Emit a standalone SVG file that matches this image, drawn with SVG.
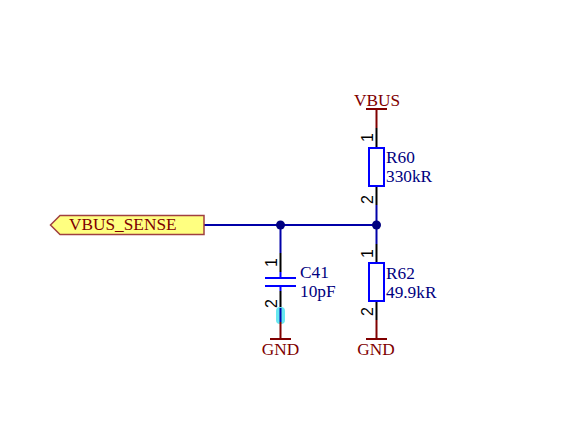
<svg xmlns="http://www.w3.org/2000/svg" width="566" height="447" viewBox="0 0 566 447">
<style>
text{font-family:"Liberation Serif","Times New Roman",serif;font-size:17.300px}
.pw{fill:#800000}
.des{fill:#000080}
.pin{font-size:16px;font-family:"Liberation Sans",Arial,sans-serif;fill:#000}
line{fill:none;stroke-width:2}
.w{stroke:#0000a8}
.k{stroke:#000}
.r{stroke:#800000}
.b{stroke:#0000ff}
.body{fill:none;stroke:#0000ff;stroke-width:2}
</style>
<rect width="566" height="447" fill="#fff"/>
<g id="connectors">
<line class="w" x1="204" y1="225" x2="376" y2="225"/>
<line class="w" x1="376.500" y1="205" x2="376.500" y2="244"/>
<line class="w" x1="280.500" y1="225" x2="280.500" y2="253"/>
<circle cx="280.500" cy="225" r="4.500" fill="#000080"/>
<circle cx="376.500" cy="225" r="4.500" fill="#000080"/>
</g>
<g id="VBUS">
<line class="r" x1="376.500" y1="109" x2="376.500" y2="128"/>
<line class="r" x1="366" y1="109" x2="387" y2="109"/>
<text class="pw" x="377" y="106" text-anchor="middle">VBUS</text>
</g>
<g id="R60">
<line class="k" x1="376.500" y1="128" x2="376.500" y2="147"/>
<line class="k" x1="376.500" y1="186" x2="376.500" y2="205"/>
<rect class="body" x="369" y="148" width="15" height="38"/>
<text class="pin" transform="translate(373 142) rotate(-90)">1</text>
<text class="pin" transform="translate(373 204) rotate(-90)">2</text>
<text class="des" x="386" y="163">R60</text>
<text class="des" x="386" y="182">330kR</text>
</g>
<g id="R62">
<line class="k" x1="376.500" y1="244" x2="376.500" y2="263"/>
<line class="k" x1="376.500" y1="301" x2="376.500" y2="320"/>
<rect class="body" x="369" y="263" width="15" height="38"/>
<text class="pin" transform="translate(373 258) rotate(-90)">1</text>
<text class="pin" transform="translate(373 316) rotate(-90)">2</text>
<text class="des" x="386" y="279">R62</text>
<text class="des" x="386" y="298">49.9kR</text>
</g>
<g id="C41">
<line class="k" x1="280.500" y1="253" x2="280.500" y2="272"/>
<line class="b" x1="280.500" y1="272" x2="280.500" y2="278"/>
<line class="b" x1="265" y1="278" x2="296" y2="278"/>
<line class="b" x1="265" y1="286" x2="296" y2="286"/>
<line class="b" x1="280.500" y1="286" x2="280.500" y2="291"/>
<line class="k" x1="280.500" y1="291" x2="280.500" y2="310"/>
<text class="pin" transform="translate(277 267) rotate(-90)">1</text>
<text class="pin" transform="translate(277 308) rotate(-90)">2</text>
<text class="des" x="300" y="278">C41</text>
<text class="des" x="300" y="297">10pF</text>
</g>
<g id="GND_C41">
<rect x="276" y="307" width="9" height="17" rx="4" fill="#66e8f0"/>
<line class="w" x1="280.500" y1="308" x2="280.500" y2="322"/>
<line class="r" x1="280.500" y1="322" x2="280.500" y2="339"/>
<line class="r" x1="270" y1="339" x2="291" y2="339"/>
<text class="pw" x="280.500" y="355" text-anchor="middle">GND</text>
</g>
<g id="GND_R62">
<line class="r" x1="376.500" y1="320" x2="376.500" y2="339"/>
<line class="r" x1="366" y1="339" x2="387" y2="339"/>
<text class="pw" x="376" y="355" text-anchor="middle">GND</text>
</g>
<g id="VBUS_SENSE">
<path d="M50.500 225L60 215.500H204V234.500H60Z" fill="#ffff80" stroke="#a04040" stroke-width="1.500"/>
<text class="pw" x="69" y="230">VBUS_SENSE</text>
</g>
</svg>
